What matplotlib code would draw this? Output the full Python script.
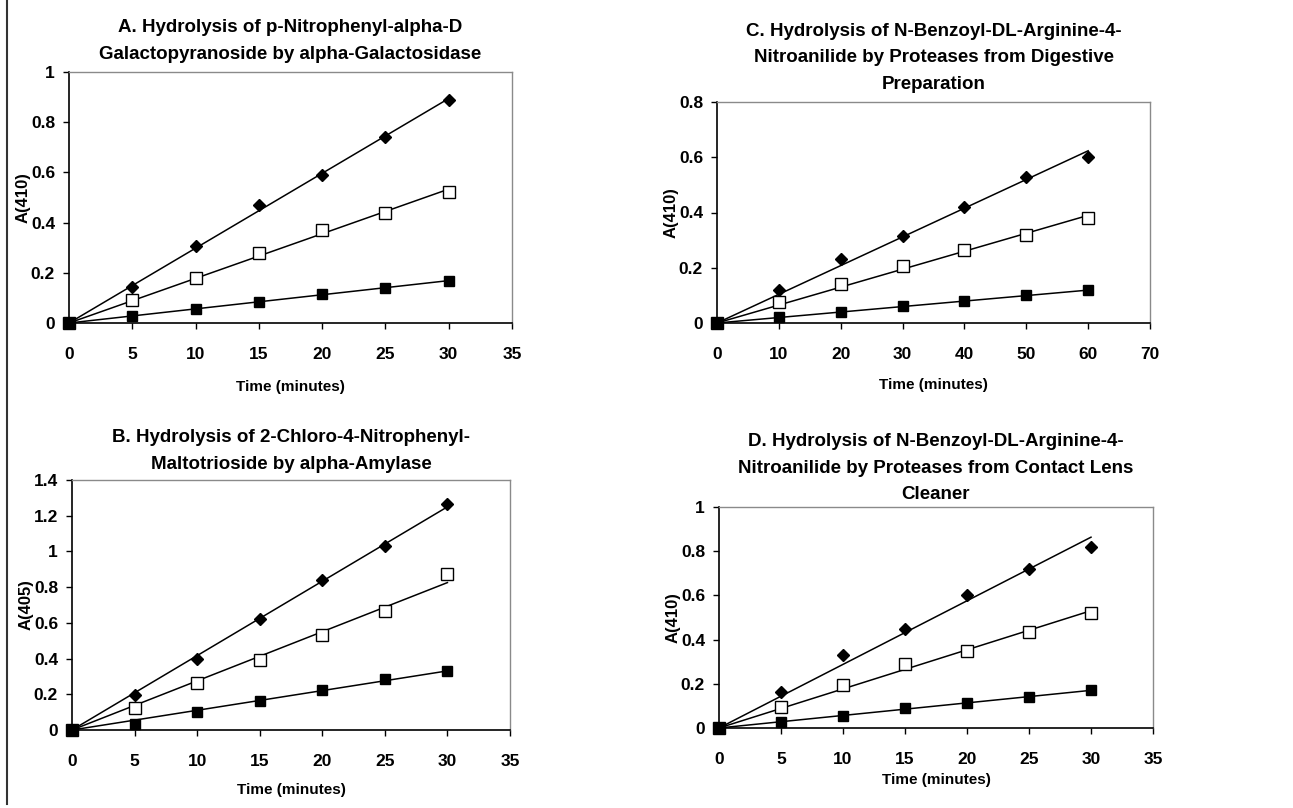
import matplotlib
matplotlib.use("Agg")
import matplotlib.pyplot as plt
from matplotlib import font_manager
from matplotlib.lines import Line2D
import numpy as np

# font: Arial-like bold
names = set(f.name for f in font_manager.fontManager.ttflist)
plt.rcParams['font.family'] = 'Liberation Sans' if 'Liberation Sans' in names else 'DejaVu Sans'
plt.rcParams['font.weight'] = 'bold'

# DATA
time_30 = [0, 5, 10, 15, 20, 25, 30]
time_60 = [0, 10, 20, 30, 40, 50, 60]

a_diamond = [0, 0.145, 0.305, 0.47, 0.59, 0.74, 0.89]
a_open = [0, 0.09, 0.18, 0.28, 0.37, 0.44, 0.52]
a_filled = [0, 0.028, 0.055, 0.085, 0.115, 0.14, 0.168]

b_diamond = [0, 0.195, 0.40, 0.62, 0.84, 1.03, 1.265]
b_open = [0, 0.125, 0.265, 0.39, 0.53, 0.665, 0.875]
b_filled = [0, 0.035, 0.10, 0.16, 0.225, 0.285, 0.33]

c_diamond = [0, 0.12, 0.23, 0.315, 0.42, 0.53, 0.60]
c_open = [0, 0.075, 0.14, 0.205, 0.265, 0.32, 0.38]
c_filled = [0, 0.02, 0.04, 0.062, 0.078, 0.10, 0.118]

d_diamond = [0, 0.165, 0.33, 0.45, 0.60, 0.72, 0.82]
d_open = [0, 0.095, 0.195, 0.29, 0.35, 0.435, 0.52]
d_filled = [0, 0.025, 0.055, 0.09, 0.115, 0.14, 0.17]

titles = ["A. Hydrolysis of p-Nitrophenyl-alpha-D\nGalactopyranoside by alpha-Galactosidase",
          "B. Hydrolysis of 2-Chloro-4-Nitrophenyl-\nMaltotrioside by alpha-Amylase",
          "C. Hydrolysis of N-Benzoyl-DL-Arginine-4-\nNitroanilide by Proteases from Digestive\nPreparation",
          "D. Hydrolysis of N-Benzoyl-DL-Arginine-4-\nNitroanilide by Proteases from Contact Lens\nCleaner"]
ylabels = ["A(410)", "A(405)", "A(410)", "A(410)"]

W, H = 1293, 808
fig = plt.figure(figsize=(W / 100, H / 100), dpi=100)


def px_axes(left, right, top, bottom):
    return fig.add_axes([left / W, (H - bottom) / H, (right - left) / W, (bottom - top) / H])


def panel(ax, t, series, title, ylabel, xmax, xstep, ymax, ystep, xlpad, tpad):
    t = np.array(t, dtype=float)
    for y, mk, face, ms in series:
        y = np.array(y)
        slope = np.sum(t * y) / np.sum(t * t)  # trendline through origin
        ax.plot([0, t[-1]], [0, slope * t[-1]], color='black', lw=1.1, zorder=2)
        ax.plot(t, y, linestyle='none', marker=mk, markersize=ms, markerfacecolor=face,
                markeredgecolor='black', markeredgewidth=1.0, zorder=3, clip_on=False)
    ax.set_xlim(0, xmax)
    ax.set_ylim(0, ymax)
    ax.set_xticks(np.arange(0, xmax + 0.001, xstep))
    yt = np.round(np.arange(0, ymax + 0.0001, ystep), 2)
    ax.set_yticks(yt)
    ax.set_yticklabels(['%g' % v for v in yt])
    ax.tick_params(axis='both', direction='out', length=4, width=1, labelsize=12.5, color='black')
    ax.tick_params(axis='x', pad=13.5)
    ax.tick_params(axis='y', pad=6)
    for s in ['top', 'right']:
        ax.spines[s].set_color('#8a8a8a')
        ax.spines[s].set_linewidth(1.0)
    for s in ['left', 'bottom']:
        ax.spines[s].set_color('black')
        ax.spines[s].set_linewidth(1.2)
    ax.set_title(title, fontsize=13.5, fontweight='bold', linespacing=1.75, pad=tpad)
    ax.set_xlabel("Time (minutes)", fontsize=11, fontweight='bold', labelpad=xlpad)
    ax.set_ylabel(ylabel, fontsize=12, fontweight='bold', labelpad=0)


ax_a = px_axes(69, 512, 72, 323)
ax_c = px_axes(717, 1150, 102, 323)
ax_b = px_axes(72, 510, 480, 730)
ax_d = px_axes(719, 1153, 507, 728)

panel(ax_a, time_30, [(a_diamond, 'D', 'black', 6), (a_open, 's', 'white', 8), (a_filled, 's', 'black', 7)],
      titles[0], ylabels[0], 35, 5, 1.0, 0.2, 13, 9.3)
panel(ax_b, time_30, [(b_diamond, 'D', 'black', 6), (b_open, 's', 'white', 8), (b_filled, 's', 'black', 7)],
      titles[1], ylabels[1], 35, 5, 1.4, 0.2, 10, 8)
panel(ax_c, time_60, [(c_diamond, 'D', 'black', 6), (c_open, 's', 'white', 8), (c_filled, 's', 'black', 7)],
      titles[2], ylabels[2], 70, 10, 0.8, 0.2, 11, 9.3)
panel(ax_d, time_30, [(d_diamond, 'D', 'black', 6), (d_open, 's', 'white', 8), (d_filled, 's', 'black', 7)],
      titles[3], ylabels[3], 35, 5, 1.0, 0.2, 4, 5.5)

# outer frame edge on the left
fig.add_artist(Line2D([6.5 / W, 6.5 / W], [0.005, 1], color='#333333', lw=1.5))

fig.savefig("out.png", dpi=100)
